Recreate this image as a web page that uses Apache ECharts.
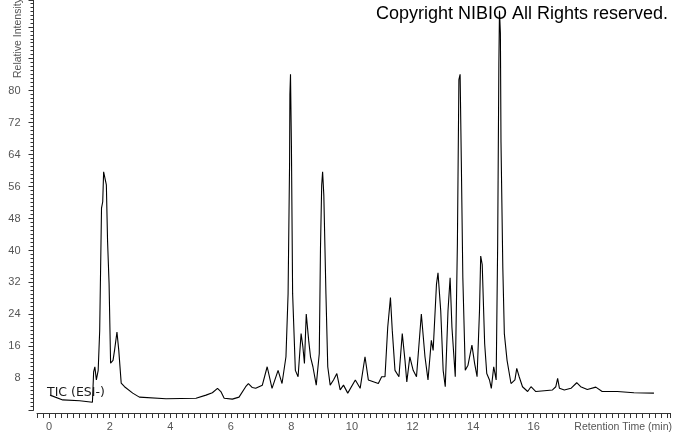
<!DOCTYPE html>
<html>
<head>
<meta charset="utf-8">
<script src="https://cdn.jsdelivr.net/npm/echarts@6/dist/echarts.min.js"></script>
<style>
html,body{margin:0;padding:0;background:#fff;}
#chart{width:673px;height:433px;}
</style>
</head>
<body>
<div id="chart"></div>
<script>
// Retention time (min)
const times = [0.03,0.45,1.01,1.43,1.47,1.51,1.56,1.62,1.67,1.73,
1.77,1.80,1.83,1.89,1.93,1.98,2.03,2.11,2.16,2.24,
2.30,2.38,2.49,2.76,2.98,3.86,4.85,5.18,5.39,5.56,
5.67,5.78,6.05,6.27,6.49,6.58,6.71,6.82,7.04,7.20,
7.36,7.56,7.69,7.82,7.89,7.94,7.95,7.97,8.00,8.04,
8.13,8.22,8.32,8.38,8.43,8.49,8.57,8.63,8.71,8.82,
8.92,8.96,9.00,9.03,9.07,9.14,9.20,9.28,9.39,9.50,
9.61,9.72,9.86,10.11,10.27,10.43,10.54,10.87,10.98,11.09,
11.18,11.27,11.33,11.42,11.55,11.66,11.75,11.81,11.91,12.02,
12.13,12.29,12.41,12.51,12.62,12.68,12.79,12.84,12.93,13.01,
13.08,13.17,13.24,13.30,13.41,13.48,13.53,13.57,13.61,13.66,
13.74,13.83,13.96,14.05,14.13,14.21,14.25,14.30,14.38,14.45,
14.54,14.60,14.68,14.76,14.81,14.85,14.87,14.90,14.92,14.98,
15.03,15.12,15.25,15.38,15.44,15.52,15.63,15.80,15.91,16.07,
16.35,16.62,16.73,16.79,16.85,17.01,17.23,17.42,17.55,17.77,
18.05,18.26,18.76,19.31,19.97];
// Relative intensity (%)
const intensity = [3.8,2.6,2.4,2.0,9.6,10.9,7.6,10,20,50.6,
52.2,59.7,60.1,56.4,42.3,31.6,11.8,12.5,15,19.6,
15,6.8,5.9,4.3,3.3,2.9,3.0,3.8,4.4,5.5,
4.7,3.0,2.8,3.3,5.9,6.7,5.7,5.5,6.3,10.9,
5.5,10.0,6.7,13.4,29.1,62.2,79.1,84.1,66.4,29.2,
10.0,8.4,19.2,15.8,11.7,24.1,17.5,13.4,10.9,6.3,
14.2,40.6,56.4,59.7,53.9,29.1,10.9,6.3,7.6,9.2,
5.1,6.3,4.3,7.6,5.5,13.4,7.6,6.7,8.4,8.4,
20.8,28.2,20,10,8.4,19.2,12.5,7.1,13.4,10,
8.4,24.1,13.4,7.6,17.5,15,31.6,34.4,24.9,10,
5.9,24.9,33.2,20.8,8.4,41.5,82.8,84.1,62.2,33.2,
10,11.3,16.3,11.7,8.4,24.9,38.6,36.5,16.7,9.2,
7.6,5.5,10.9,7.6,41.5,87,100,94.4,67.1,35.7,
19.2,12.5,6.7,7.6,10.5,8.4,5.9,4.7,5.9,4.7,
4.9,5.1,5.9,8.0,5.5,5.1,5.5,6.9,5.9,5.2,
5.8,4.7,4.7,4.4,4.3];
const xTickLabels = [0,2,4,6,8,10,12,14,16];
const yTickLabels = [8,16,24,32,40,48,56,64,72,80];

const seriesData = times.map((t,i)=>[t,intensity[i]]);
const near = (arr,v)=>arr.some(a=>Math.abs(a-v)<1e-6);

const chart = echarts.init(document.getElementById('chart'), null, {renderer:'canvas'});
chart.setOption({
  animation:false,
  backgroundColor:'#fff',
  grid:{left:37, right:0, top:0, bottom:22.7, containLabel:false},
  xAxis:{
    type:'value', min:-0.4, max:20.5, interval:0.2, offset:2.7,
    axisLine:{onZero:false, lineStyle:{color:'#333', width:1}},
    axisTick:{show:true, length:5, lineStyle:{color:'#333'}},
    axisLabel:{color:'#555', fontSize:11, margin:8, fontFamily:'Liberation Sans',
      formatter:v=>near(xTickLabels,v)?String(Math.round(v)):''},
    splitLine:{show:false}
  },
  yAxis:{
    type:'value', min:0, max:102.7, interval:8, offset:3.5,
    axisLine:{onZero:false, lineStyle:{color:'#333', width:1}},
    axisTick:{show:true, length:5, lineStyle:{color:'#333'}},
    minorTick:{show:true, splitNumber:8, length:3, lineStyle:{color:'#333'}},
    axisLabel:{color:'#555', fontSize:11, margin:13, fontFamily:'Liberation Sans',
      formatter:v=>near(yTickLabels,v)?String(Math.round(v)):''},
    splitLine:{show:false}
  },
  series:[{
    type:'line', data:seriesData, showSymbol:false, symbol:'none',
    lineStyle:{color:'#000', width:1.1}, smooth:false, sampling:null, clip:true
  }],
  graphic:[
    {type:'text', x:18, y:78, rotation:Math.PI/2, z:10,
      style:{text:'Relative Intensity', fill:'#555', fontSize:10.5, fontFamily:'Liberation Sans', align:'left', verticalAlign:'middle'}},
    {type:'text', x:672, y:427, z:10,
      style:{text:'Retention Time (min)', fill:'#555', fontSize:10.5, fontFamily:'Liberation Sans', align:'right', verticalAlign:'middle'}},
    {type:'text', x:376, y:14, z:10,
      style:{text:'Copyright NIBIO All Rights reserved.', fill:'#000', fontSize:18, fontFamily:'Liberation Sans', align:'left', verticalAlign:'middle'}},
    {type:'text', x:47, y:393, z:10,
      style:{text:'TIC (ESI-)', fill:'#1a1a1a', fontSize:12.5, fontFamily:'DejaVu Sans', align:'left', verticalAlign:'middle'}}
  ]
});
</script>
</body>
</html>
